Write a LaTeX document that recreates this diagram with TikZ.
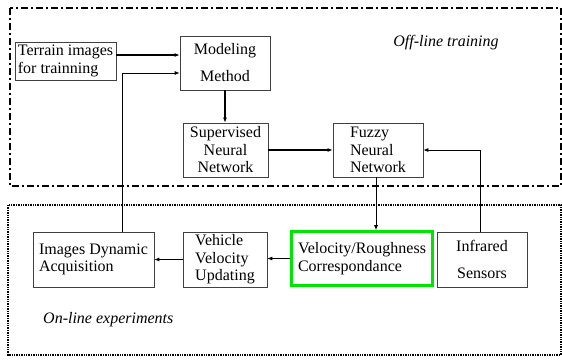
\documentclass[tikz,border=0pt]{standalone}
\usepackage{fontspec}
\setmainfont{Liberation Serif}
\usetikzlibrary{arrows.meta}

\begin{document}
\begin{tikzpicture}[x=1pt,y=-1pt]
            \tikzset{
              blockbox/.style={draw=black!75, line width=0.7pt, inner sep=1pt,
                font=\fontsize{16}{17.5}\selectfont},
              widebox/.style={blockbox, font=\fontsize{16}{27}\selectfont},
              flow/.style={black, line width=1.2pt, -{Latex[length=5pt,width=4pt]}},
              thinflow/.style={black, line width=0.8pt, -{Latex[length=5pt,width=4pt]}}
            }
            \useasboundingbox (0,0) rectangle (562,359);
            % the two frames
            \draw [black, line width=2.4pt, dash pattern=on 7pt off 3pt on 2pt off 3pt] (10,8) rectangle (561,186);
            \draw [black, line width=1.6pt, dash pattern=on 1.4pt off 1pt] (8,205) rectangle (561,355);
            \node [font=\fontsize{16}{18}\selectfont\itshape] (offline) at (446,43) {Off-line training};
            \node [font=\fontsize{16}{18}\selectfont\itshape, anchor=west, inner sep=0pt] (online) at (43,320) {On-line experiments};
            % off-line blocks
            \node [blockbox, align=left, minimum width=101pt, minimum height=38pt] (terrain) at (65.5,61) {Terrain images\\for trainning};
            \node [widebox, align=center, minimum width=90pt, minimum height=54pt] (model) at (225,63) {Modeling\\Method};
            \node [blockbox, align=center, minimum width=85pt, minimum height=54pt] (super) at (225.5,150) {Supervised\\Neural\\Network};
            \node [blockbox, align=left, minimum width=90pt, minimum height=54pt] (fuzzy) at (378,150) {Fuzzy\\Neural\\Network};
            % on-line blocks
            \node [blockbox, align=left, minimum width=121pt, minimum height=55pt] (images) at (93.5,259.5) {Images Dynamic\\Acquisition};
            \node [blockbox, align=left, minimum width=84pt, minimum height=55pt] (vehicle) at (225,259.5) {Vehicle\\Velocity\\Updating};
            \node [blockbox, draw=green!90!black, line width=2.6pt, align=left, minimum width=141pt, minimum height=54pt] (velo) at (362,258.5) {Velocity/Roughness\\Correspondance};
            \node [widebox, align=center, minimum width=90pt, minimum height=55pt] (infra) at (482,259.5) {Infrared\\Sensors};
            % connections
            \draw [flow] ([yshift=6pt]terrain.east) -- ([yshift=8pt]model.west);
            \draw [thinflow] ([xshift=28.5pt]images.north) |- ([yshift=-10pt]model.west);
            \draw [flow] (model.south) -- (model.south |- super.north);
            \draw [flow] (super.east) -- (fuzzy.west);
            \draw [thinflow] ([xshift=-2pt]infra.north) |- (fuzzy.east);
            \draw [thinflow] ([xshift=-2pt]fuzzy.south) -- ([xshift=-2pt]fuzzy.south |- velo.north);
            \draw [thinflow] (velo.west) -- (velo.west -| vehicle.east);
            \draw [thinflow] (vehicle.west) -- (vehicle.west -| images.east);
\end{tikzpicture}
\end{document}
